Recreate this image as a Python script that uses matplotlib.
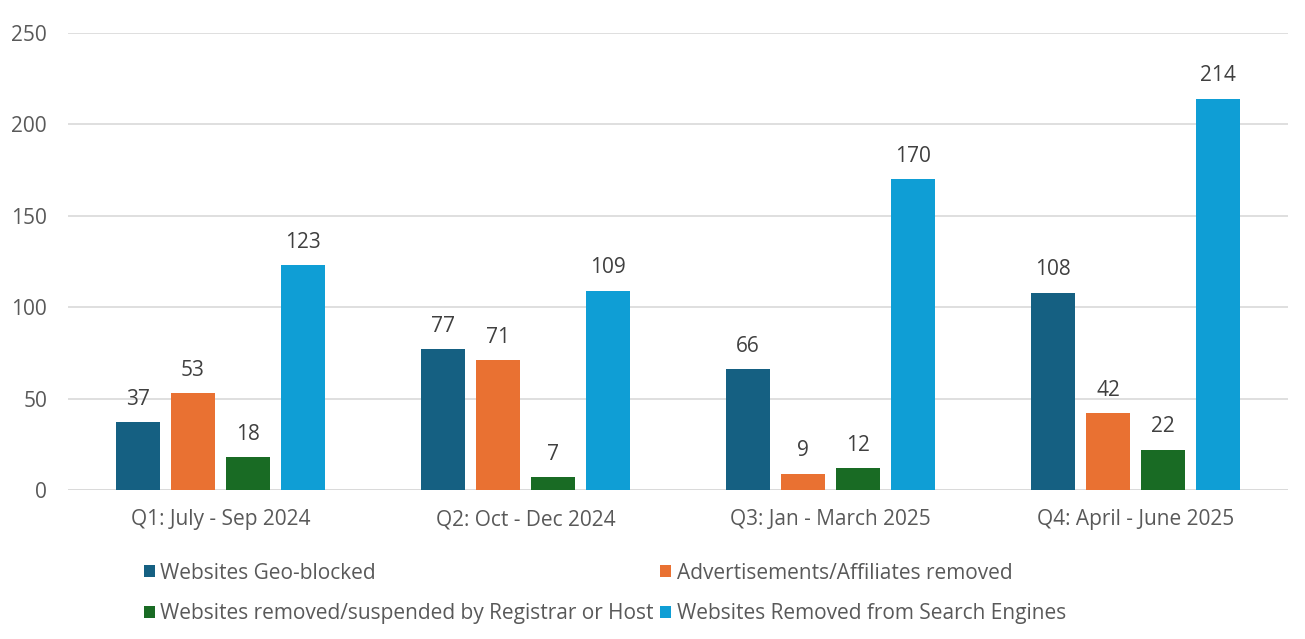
import matplotlib.pyplot as plt
import numpy as np

quarters = ["Q1: July - Sep 2024", "Q2: Oct - Dec 2024", "Q3: Jan - March 2025", "Q4: April - June 2025"]
series_names = [
    "Websites Geo-blocked",
    "Advertisements/Affiliates removed",
    "Websites removed/suspended by Registrar or Host",
    "Websites Removed from Search Engines",
]
geo_blocked = [37, 77, 66, 108]
ads_removed = [53, 71, 9, 42]
registrar_removed = [18, 7, 12, 22]
search_removed = [123, 109, 170, 214]

colors = ["#156082", "#E97132", "#196B24", "#0F9ED5"]
text_color = "#595959"

plt.rcParams["font.family"] = ["Open Sans", "DejaVu Sans"]

fig = plt.figure(figsize=(13.05, 6.39), dpi=100)
ax = fig.add_axes([0.052, 0.2332, 0.935, 0.7152])

x = np.arange(len(quarters))
step = 0.18
width = 0.145
all_series = [geo_blocked, ads_removed, registrar_removed, search_removed]
handles = []
for i, (vals, name, c) in enumerate(zip(all_series, series_names, colors)):
    pos = x + (i - 1.5) * step
    bars = ax.bar(pos, vals, width=width, color=c, label=name, zorder=3)
    handles.append(bars)
    ax.bar_label(bars, padding=9, fontsize=15, color="#404040")

ax.set_xlim(-0.5, 3.5)
ax.set_ylim(0, 250)
ax.set_yticks(range(0, 251, 50))
ax.set_xticks(x)
ax.set_xticklabels(quarters)
ax.grid(axis="y", color="#d9d9d9", linewidth=1.2, zorder=0)
for s in ["top", "right", "left", "bottom"]:
    ax.spines[s].set_visible(False)
ax.axhline(0, color="#d9d9d9", linewidth=1.2, zorder=2)
ax.tick_params(axis="both", length=0, labelsize=15, colors=text_color)
ax.tick_params(axis="x", pad=14)
ax.tick_params(axis="y", pad=15)

# legend fills row-wise in the reference
order = [0, 2, 1, 3]
fig.legend([handles[k] for k in order], [series_names[k] for k in order],
           loc="upper left", bbox_to_anchor=(0.102, 0.136), ncol=2, frameon=False,
           fontsize=15, labelcolor=text_color, handlelength=0.55, handleheight=0.55,
           handletextpad=0.25, columnspacing=0.3, labelspacing=0.95, borderpad=0)

fig.savefig("out.png", dpi=100)
